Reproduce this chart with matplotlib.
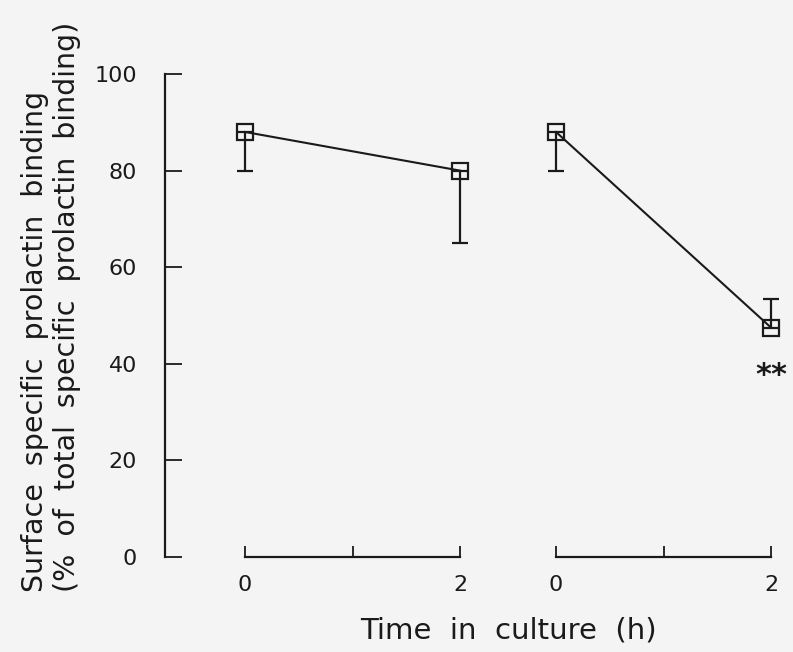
import matplotlib.pyplot as plt
import numpy as np

# values
hours = [0, 1, 2]
time_points = [0, 2]
group_a = [88, 80]
group_a_lower = [8, 15]
group_a_upper = [0, 0]
group_b = [88, 47.5]
group_b_lower = [8, 0]
group_b_upper = [0, 6]
yticks = [0, 20, 40, 60, 80, 100]

plt.rcParams['font.family'] = ['DejaVu Sans']
bg = '#f4f4f4'
ink = '#1a1a1a'

fig = plt.figure(figsize=(7.93, 6.52), dpi=100, facecolor=bg)

W, H = 793.0, 652.0
px_per_h = 107.5
y0_px, y100_px = 557.0, 74.0
bottom = (H - y0_px) / H
height = (y0_px - y100_px) / H


def make_axes(left_px, right_px, zero_px):
    ax = fig.add_axes([left_px / W, bottom, (right_px - left_px) / W, height])
    ax.set_facecolor('none')
    ax.set_xlim((left_px - zero_px) / px_per_h, (right_px - zero_px) / px_per_h)
    ax.set_ylim(0, 100)
    for s in ['top', 'right']:
        ax.spines[s].set_visible(False)
    ax.spines['bottom'].set_bounds(0, 2)
    ax.spines['bottom'].set_linewidth(1.6)
    ax.spines['bottom'].set_color(ink)
    ax.set_xticks(hours)
    ax.set_xticklabels(['0', '', '2'])
    ax.tick_params(axis='x', direction='in', length=8, width=1.3, pad=13,
                   labelsize=16, colors=ink)
    return ax


ax1 = make_axes(165, 500, 245)
ax2 = make_axes(500, 793, 556)

ax1.spines['left'].set_linewidth(1.6)
ax1.spines['left'].set_color(ink)
ax1.set_yticks(yticks)
ax1.tick_params(axis='y', direction='in', length=12, width=1.3, pad=20,
                labelsize=16, colors=ink)
ax2.spines['left'].set_visible(False)
ax2.set_yticks([])

style = dict(color=ink, lw=1.5, marker='s', ms=11, mfc='none', mec=ink,
             mew=1.6, ecolor=ink, elinewidth=1.6, capsize=6, capthick=1.6,
             clip_on=False)
ax1.errorbar(time_points, group_a, yerr=[group_a_lower, group_a_upper], **style)
ax2.errorbar(time_points, group_b, yerr=[group_b_lower, group_b_upper], **style)

ax2.text(time_points[1], 37.5, '**', ha='center', va='center', fontsize=22,
         color=ink, fontweight='bold')

fig.text(51 / W, 1 - 592 / H,
         'Surface  specific  prolactin  binding\n'
         '(%  of  total  specific  prolactin  binding)',
         rotation=90, ha='center', va='bottom', multialignment='left',
         fontsize=20.5, color=ink, linespacing=1.2)

fig.text(508 / W, 1 - 630 / H, 'Time  in  culture  (h)', ha='center',
         va='center', fontsize=21, color=ink)

fig.savefig('out.png', dpi=100, facecolor=bg)
